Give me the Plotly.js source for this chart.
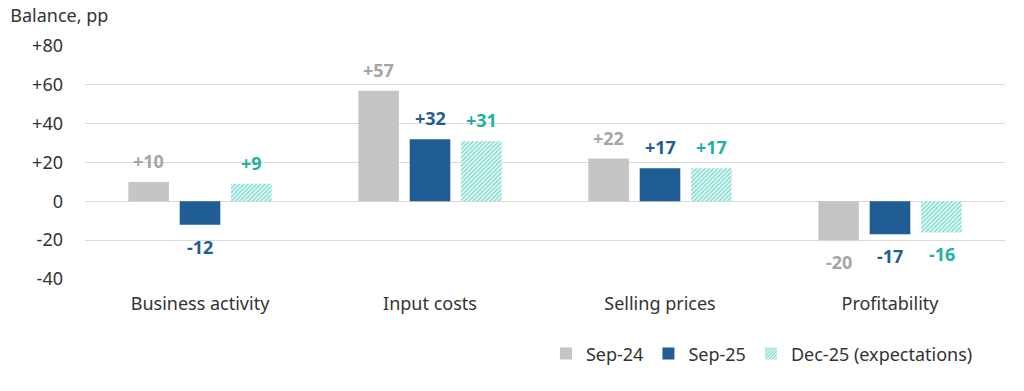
<!DOCTYPE html>
<html><head><meta charset="utf-8">
<script src="https://cdn.plot.ly/plotly-3.0.1.min.js"></script>
<style>html,body{margin:0;padding:0;background:#fff}#chart{width:1024px;height:391px}</style>
</head><body><div id="chart"></div>
<script>
const categories = ["Business activity", "Input costs", "Selling prices", "Profitability"];
const seriesNames = ["Sep-24", "Sep-25", "Dec-25 (expectations)"];
const sep24 = [10, 57, 22, -20];
const sep25 = [-12, 32, 17, -17];
const dec25 = [9, 31, 17, -16];
const yTickVals = [-40, -20, 0, 20, 40, 60, 80];
const yTickText = ["-40", "-20", "0", "+20", "+40", "+60", "+80"];

const barColors = ["#c4c5c7", "#1f5d94", "#14bba7"];
const labelColors = ["#a5a6a8", "#1f5d94", "#1db3a0"];
const allSeries = [sep24, sep25, dec25];
const FONT = "'Noto Sans', 'Open Sans', sans-serif";

const traces = [
  {type: "bar", name: seriesNames[0], x: categories, y: sep24, marker: {color: barColors[0], line: {width: 0}}, hoverinfo: "none"},
  {type: "bar", name: seriesNames[1], x: categories, y: sep25, marker: {color: barColors[1], line: {width: 0}}, hoverinfo: "none"},
  {type: "bar", name: seriesNames[2], x: categories, y: dec25,
   marker: {color: "#ffffff", line: {width: 0},
            pattern: {shape: "/", fgcolor: barColors[2], bgcolor: "#ffffff", size: 3, solidity: 0.6, fillmode: "overlay"}},
   hoverinfo: "none"}
];

const fmt = v => (v > 0 ? "+" : "") + v;
const slot = 51.5;
const annotations = [];
allSeries.forEach((s, si) => {
  s.forEach((v, ci) => {
    annotations.push({
      x: categories[ci], y: v, xref: "x", yref: "y",
      text: "<b>" + fmt(v) + "</b>", showarrow: false,
      xshift: (si - 1) * slot, yshift: v >= 0 ? 21 : -22,
      yanchor: "middle", xanchor: "center",
      font: {family: FONT, size: 18, color: labelColors[si]}
    });
  });
});

const layout = {
  width: 1024, height: 391,
  margin: {l: 85, r: 19, t: 46, b: 112},
  paper_bgcolor: "#fff", plot_bgcolor: "#fff",
  font: {family: FONT, size: 18, color: "#333333"},
  title: {text: "Balance, pp", xref: "container", yref: "container", x: 0.01, xanchor: "left", y: 0.96, yanchor: "middle",
          font: {family: FONT, size: 18, color: "#333333"}},
  barmode: "group", bargap: 0.33, bargroupgap: 0.21,
  xaxis: {type: "category", showgrid: false, zeroline: false, showline: false, ticks: "",
          tickfont: {size: 18, color: "#333333"}, ticklabelstandoff: 12},
  yaxis: {range: [-40, 80], tickvals: yTickVals, ticktext: yTickText, showgrid: true, gridcolor: "#d9d9d9", gridwidth: 1,
          zeroline: true, zerolinecolor: "#d9d9d9", zerolinewidth: 1, showline: false, ticks: "",
          tickfont: {size: 18, color: "#333333"}, ticklabelstandoff: 21, fixedrange: true},
  legend: {orientation: "h", x: 0.955, xanchor: "right", xref: "container", yref: "container", y: 0.095, yanchor: "middle",
           font: {size: 18, color: "#333333"}, traceorder: "normal", itemwidth: 30},
  annotations: annotations,
  showlegend: true
};

Plotly.newPlot("chart", traces, layout, {staticPlot: true, displayModeBar: false});
</script></body></html>
